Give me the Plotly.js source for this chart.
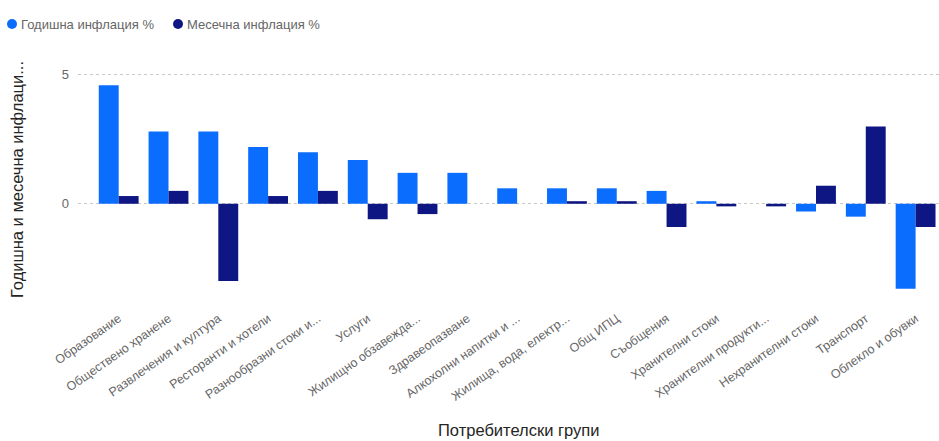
<!DOCTYPE html>
<html>
<head>
<meta charset="utf-8">
<script src="https://cdn.plot.ly/plotly-3.0.1.min.js"></script>
<style>html,body{margin:0;padding:0;background:#fff;}#chart{width:939px;height:441px;}</style>
</head>
<body>
<div id="chart"></div>
<script>
const categories = [
  "Образование", "Обществено хранене", "Развлечения и култура", "Ресторанти и хотели",
  "Разнообразни стоки и...", "Услуги", "Жилищно обзавежда...", "Здравеопазване",
  "Алкохолни напитки и ...", "Жилища, вода, електр...", "Общ ИПЦ", "Съобщения",
  "Хранителни стоки", "Хранителни продукти...", "Нехранителни стоки", "Транспорт", "Облекло и обувки"
];
const annualInflation = [4.6, 2.8, 2.8, 2.2, 2.0, 1.7, 1.2, 1.2, 0.6, 0.6, 0.6, 0.5, 0.1, 0.0, -0.3, -0.5, -3.3];
const monthlyInflation = [0.3, 0.5, -3.0, 0.3, 0.5, -0.6, -0.4, 0.0, 0.0, 0.1, 0.1, -0.9, -0.1, -0.1, 0.7, 3.0, -0.9];
const seriesNames = ["Годишна инфлация %", "Месечна инфлация %"];
const seriesColors = ["#0B6DFE", "#0E1683"];
const yTitle = "Годишна и месечна инфлаци...";
const xTitle = "Потребителски групи";

const font = "'Liberation Sans', Arial, sans-serif";
const L = 78, T = 62, B = 147, W = 939, H = 441;
const pw = W - L, ph = H - T - B;
const px = x => (x - L) / pw;
const py = y => (H - B - y) / ph;

const traces = [
  {type: "bar", name: seriesNames[0], x: categories, y: annualInflation, marker: {color: seriesColors[0]}},
  {type: "bar", name: seriesNames[1], x: categories, y: monthlyInflation, marker: {color: seriesColors[1]}}
];

const legendX = [12, 178];
const legendAnn = seriesNames.map((n, i) => ({
  text: n, xref: "paper", yref: "paper", x: px(legendX[i] + 7), y: py(24),
  xanchor: "left", yanchor: "middle", showarrow: false,
  font: {size: 13, color: "#666", family: font}
}));
const legendShapes = seriesNames.map((n, i) => ({
  type: "circle", xref: "paper", yref: "paper",
  xsizemode: "pixel", ysizemode: "pixel",
  xanchor: px(legendX[i]), yanchor: py(24),
  x0: -5, x1: 5, y0: -5, y1: 5,
  fillcolor: seriesColors[i], line: {width: 0}
}));

const layout = {
  width: W, height: H,
  margin: {l: L, r: 0, t: T, b: B},
  paper_bgcolor: "#fff", plot_bgcolor: "#fff",
  barmode: "group", bargap: 0.2, bargroupgap: 0,
  font: {family: font, color: "#666"},
  showlegend: false,
  xaxis: {
    type: "category", range: [-0.817, 16.47], tickangle: -35,
    tickfont: {size: 12.5, color: "#666", family: font}, ticklabelstandoff: 14,
    showgrid: false, zeroline: false, showline: false, ticks: "", automargin: false
  },
  yaxis: {
    range: [-3.5, 5.5], tickvals: [0, 5], ticktext: ["0", "5"],
    showgrid: true, gridcolor: "#c8c8c8", griddash: "dot", gridwidth: 1,
    zeroline: false, showline: false, ticks: "", ticklabelstandoff: 8,
    tickfont: {size: 13, color: "#666", family: font}, automargin: false
  },
  shapes: legendShapes,
  annotations: legendAnn.concat([
    {text: yTitle, xref: "paper", yref: "paper", x: px(17), y: py(180), xanchor: "center", yanchor: "middle",
     textangle: -90, showarrow: false, font: {size: 16.5, color: "#252423", family: font}},
    {text: xTitle, xref: "paper", yref: "paper", x: px(518), y: py(430), xanchor: "center", yanchor: "middle",
     showarrow: false, font: {size: 16.5, color: "#252423", family: font}}
  ])
};
Plotly.newPlot("chart", traces, layout, {displayModeBar: false, staticPlot: true});
</script>
</body>
</html>
